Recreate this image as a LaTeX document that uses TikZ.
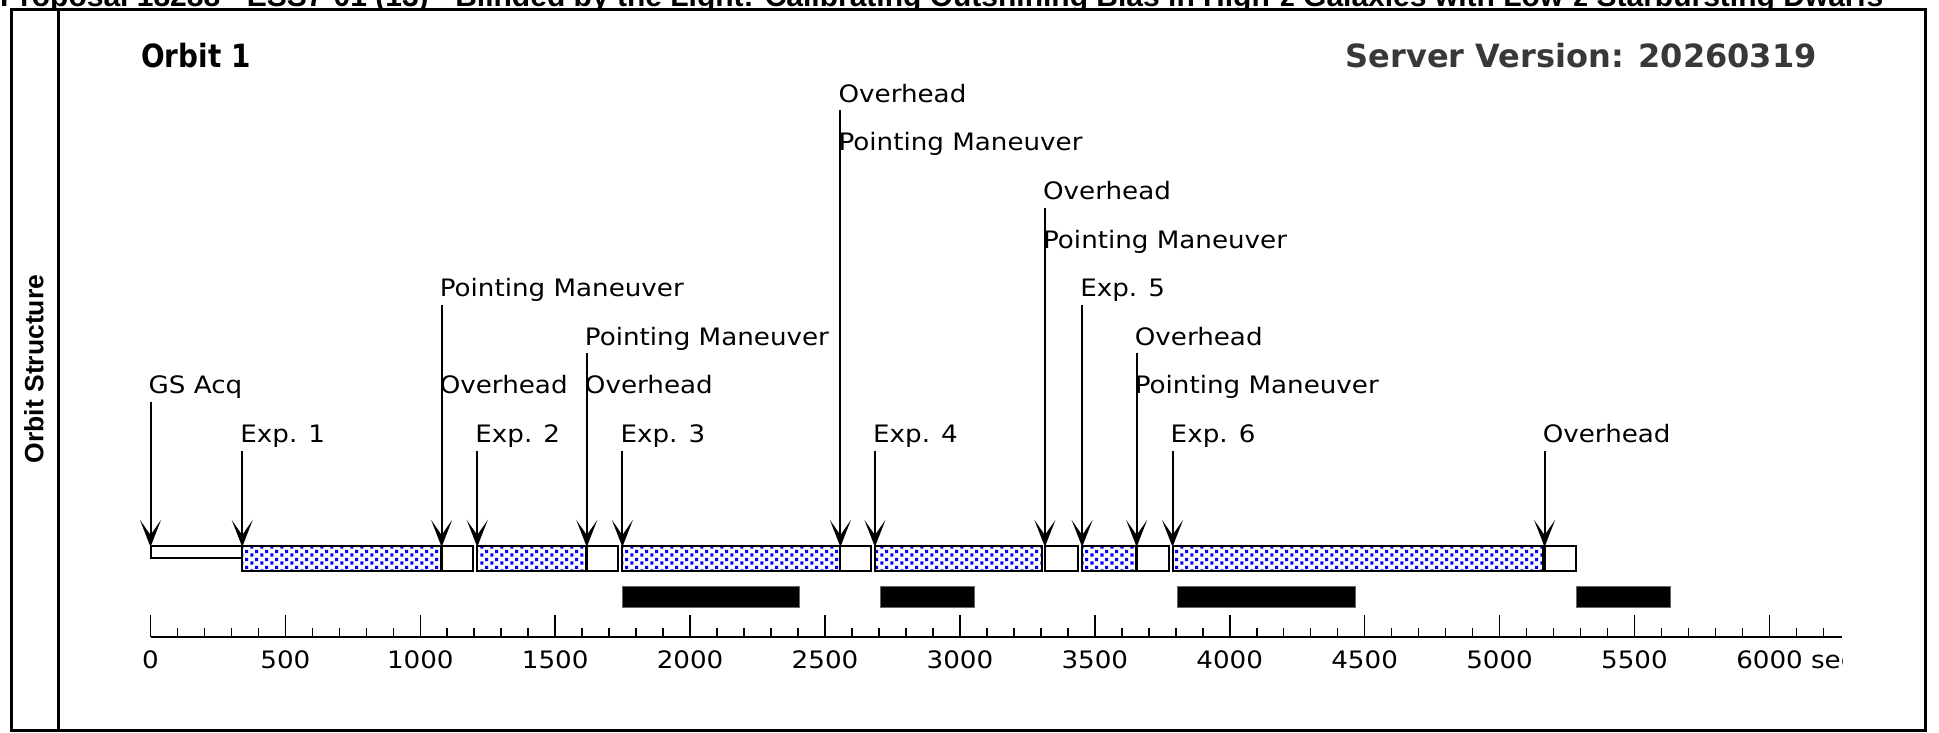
\documentclass[tikz,border=0pt]{standalone}
\usepackage{fontspec}
\newfontfamily\lblfont[FakeStretch=1.09]{DejaVu Sans}
\newfontfamily\ttlfont{DejaVu Sans}
\newfontfamily\ttlnarrow[FakeStretch=0.87]{DejaVu Sans}
\newfontfamily\hdrfont{Liberation Sans}
\usetikzlibrary{arrows.meta,patterns.meta}
\tikzdeclarepattern{
  name=bluedots,
  type=uncolored,
  bottom left={(0pt,0pt)},
  top right={(10pt,8pt)},
  tile size={(10pt,8pt)},
  code={
    \fill (0.5pt,0.3pt) rectangle (3.8pt,3.9pt);
    \fill (5.5pt,4.3pt) rectangle (8.8pt,7.9pt);
  }
}
\tikzset{
  lbl/.style={anchor=base west, inner sep=0pt, xshift=-2pt, font=\lblfont\fontsize{24}{28}\selectfont},
  ticklbl/.style={anchor=base, inner sep=0pt, font=\lblfont\fontsize{24}{28}\selectfont},
  arr/.style={line width=2pt, -{Stealth[length=27pt,width=21pt,inset=15pt]}},
  segbox/.style={draw=black, line width=2pt, fill=white},
  dotfill/.style={pattern=bluedots, pattern color=blue},
  sunbar/.style={fill=black, draw=black!60, line width=1pt},
  frameline/.style={line width=3pt, draw=black},
}
\newcommand\expseg[2]{%
  \draw[segbox] (#1,546) rectangle (#2,571);
  \fill[dotfill] (#1,547) rectangle (#2,570);
  \draw[draw=black, line width=2pt] (#1,546) rectangle (#2,571);
}
\newcommand\marker[3]{%
  \coordinate (#1s) at (#2,#3);
  \coordinate (#1e) at (#2,547);
  \draw[arr] (#1s) -- (#1e);
}
\begin{document}
\begin{tikzpicture}[x=1pt,y=-1pt]
\useasboundingbox (0,0) rectangle (1939,733);
\fill[white] (0,0) rectangle (1939,733);

% header (cut off at top)
\node[anchor=base west, inner sep=0pt, font=\hdrfont\bfseries\fontsize{30}{34}\selectfont] (header) at (0,7)
  {Proposal 18288 - ESS7-01 (13) - Blinded by the Light: Calibrating Outshining Bias in High-z Galaxies with Low-z Starbursting Dwarfs};

% frame
\fill[white] (9,9) rectangle (1927,732);
\draw[frameline] (11,10) rectangle (1925,730);
\draw[frameline] (58,10) -- (58,730);

\node[rotate=90, inner sep=0pt, font=\hdrfont\bfseries\fontsize{26.5}{30}\selectfont] (side) at (34,369) {Orbit Structure};

\node[anchor=base west, inner sep=0pt, font=\ttlnarrow\bfseries\fontsize{32}{36}\selectfont] (orbit) at (141,68) {Orbit 1};
\node[anchor=base east, inner sep=0pt, text=black!78, font=\ttlfont\bfseries\fontsize{32}{36}\selectfont] (server) at (1817,68) {Server Version: 20260319};

\begin{scope}[xshift=150.5pt, x=0.2698pt]
  % bars
  \draw[segbox] (0,546) rectangle (340,558);
  \expseg{340}{1077}
  \draw[segbox] (1079,546) rectangle (1196,571);
  \expseg{1211}{1615}
  \draw[segbox] (1617,546) rectangle (1734,571);
  \expseg{1749}{2555}
  \draw[segbox] (2557,546) rectangle (2670,571);
  \expseg{2685}{3304}
  \draw[segbox] (3315,546) rectangle (3437,571);
  \expseg{3453}{3653}
  \draw[segbox] (3655,546) rectangle (3775,571);
  \expseg{3788}{5160}
  \draw[segbox] (5167,546) rectangle (5282,571);

  % black bars
  \fill[sunbar] (1749,586) rectangle (2404,607);
  \fill[sunbar] (2706,586) rectangle (3053,607);
  \fill[sunbar] (3808,586) rectangle (4465,607);
  \fill[sunbar] (5286,586) rectangle (5634,607);

  % markers and labels
  \node[lbl] (gs) at (0,393.5) {GS Acq};
  \marker{m1}{0}{401.5}
  \node[lbl] (e1) at (340,442.5) {Exp. 1};
  \marker{m2}{340}{450.5}
  \node[lbl] (pm1) at (1079,296.5) {Pointing Maneuver};
  \node[lbl] (oh1) at (1079,393.5) {Overhead};
  \marker{m3}{1079}{304.5}
  \node[lbl] (e2) at (1211,442.5) {Exp. 2};
  \marker{m4}{1211}{450.5}
  \node[lbl] (pm2) at (1617,345) {Pointing Maneuver};
  \node[lbl] (oh2) at (1617,393.5) {Overhead};
  \marker{m5}{1617}{353}
  \node[lbl] (e3) at (1749,442.5) {Exp. 3};
  \marker{m6}{1749}{450.5}
  \node[lbl] (oh3) at (2557,102.5) {Overhead};
  \node[lbl] (pm3) at (2557,151) {Pointing Maneuver};
  \marker{m7}{2557}{110.5}
  \node[lbl] (e4) at (2685,442.5) {Exp. 4};
  \marker{m8}{2685}{450.5}
  \node[lbl] (oh4) at (3315,199.5) {Overhead};
  \node[lbl] (pm4) at (3315,248) {Pointing Maneuver};
  \marker{m9}{3315}{207.5}
  \node[lbl] (e5) at (3453,296.5) {Exp. 5};
  \marker{m10}{3453}{304.5}
  \node[lbl] (oh5) at (3655,345) {Overhead};
  \node[lbl] (pm5) at (3655,393.5) {Pointing Maneuver};
  \marker{m11}{3655}{353}
  \node[lbl] (e6) at (3788,442.5) {Exp. 6};
  \marker{m12}{3788}{450.5}
  \node[lbl] (oh6) at (5167,442.5) {Overhead};
  \marker{m13}{5167}{450.5}

  % axis
  \draw[line width=2pt] (0,637) -- (6268,637);
  \foreach \t in {0,100,...,6200} {\draw[line width=1.6pt] (\t,637) -- (\t,628);}
  \foreach \t in {0,500,...,6000} {\draw[line width=1.6pt] (\t,637) -- (\t,615);}
  \foreach \t [count=\i] in {0,500,...,5500} {\node[ticklbl] (tl\i) at (\t,668) {\t};}
  \begin{scope}
    \clip (5800,645) rectangle (6272,690);
    \node[anchor=base west, inner sep=0pt, xshift=-33.3pt, font=\lblfont\fontsize{24}{28}\selectfont] (tl13) at (6000,668) {6000 sec};
  \end{scope}
\end{scope}
\end{tikzpicture}
\end{document}
